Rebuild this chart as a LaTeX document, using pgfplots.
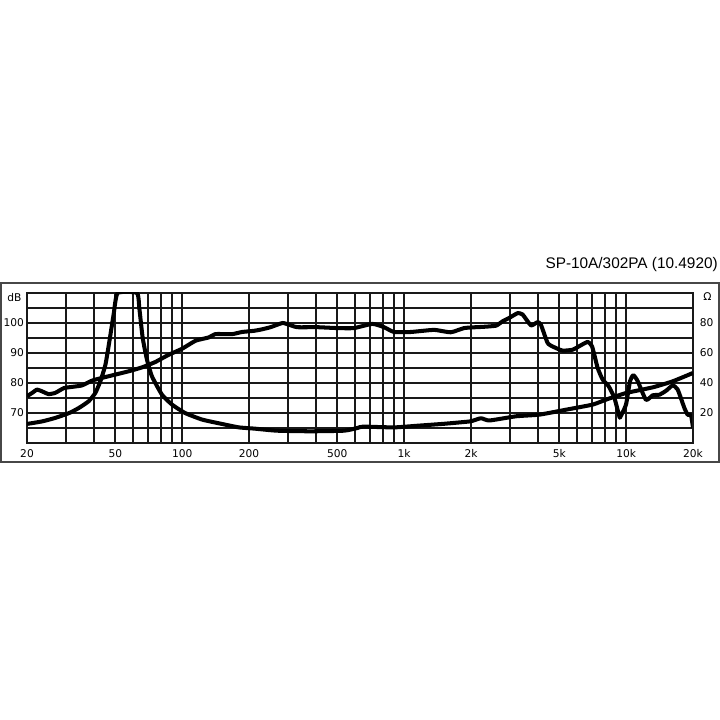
\documentclass[border=0pt]{standalone}
\usepackage{pgfplots}
\pgfplotsset{compat=1.18}
\usepackage{fontspec}
\setmainfont{DejaVu Sans}
\newfontfamily\dejavu{DejaVu Sans}
\newfontfamily\arialf{Liberation Sans}

\pgfplotstableread{
f db
20 75.6
21.1 76.7
22.2 77.8
23.4 77.2
25.0 76.3
26.8 76.7
29.3 78.3
31.9 78.7
35.4 79.2
39.3 80.8
43.5 81.7
50 82.8
57.4 83.9
65.9 85.2
75.7 87.0
86.9 89.4
99.8 91.4
115 94.1
132 95.2
141 96.3
168 96.3
186 97.0
211 97.4
226 97.8
250 98.6
283 100.0
303 99.4
330 98.6
406 98.6
500 98.3
594 98.3
719 99.7
811 98.6
900 97.0
1070 97.0
1362 97.7
1619 96.9
1860 98.3
2105 98.6
2250 98.7
2590 99.1
2780 100.6
2975 101.7
3246 103.3
3418 102.8
3725 99.2
3990 100.3
4130 99.4
4430 93.3
4746 91.9
5174 90.8
5742 91.1
6260 92.6
6710 93.7
7020 92.2
7440 85.0
7840 81.1
8340 78.9
8850 75.0
9310 68.9
9400 68.6
9980 72.8
10400 80.6
10770 82.6
11270 80.6
12270 74.4
13170 75.9
14110 76.1
15120 77.4
16190 79.2
17060 77.8
18280 71.7
18930 69.4
19600 69.2
20000 65
}\spltable

\pgfplotstableread{
f ohm
20 12.7
23.4 14.4
26.8 16.7
31 20
34.2 23.3
37.9 27.8
40.6 33.3
42.8 41.1
45.1 52.2
47 67.8
49.1 85.6
51.2 100
62.6 100
64.1 90
66.4 70
69.4 55.6
73.1 44.4
81.1 32.2
90 25.6
103 20
123 15.6
151 12.7
180 10.4
211 9.6
267 8.2
379 7.8
536 8.2
616 10
652 10.9
900 10.4
1146 11.5
1512 12.8
1800 13.8
2000 14.5
2218 16.5
2420 15
3190 17.8
4064 18.9
5360 22.2
7066 25.6
8110 28.9
9980 33.3
13170 37.1
16190 41.1
20000 46.7
}\imptable

\begin{document}
\begin{tikzpicture}[x=0.72bp,y=0.72bp]
\useasboundingbox (0,0) rectangle (720,720);
% outer frame
\draw[black!72, line width=1.4bp] (1,{720-283}) rectangle (719,{720-462});
% title
\node[anchor=base east, inner sep=0, font=\arialf\fontsize{11.1}{13}\selectfont] at (718,{720-269}) {SP-10A/302PA (10.4920)};

\begin{axis}[
  at={(19.44bp,199.44bp)}, anchor=south west,
  width=479.52bp, height=108bp, scale only axis,
  xmode=log, log basis x=10,
  xmin=20, xmax=20000, ymin=60, ymax=110,
  xtick={20,50,100,200,500,1000,2000,5000,10000,20000},
  xticklabels={20,50,100,200,500,1k,2k,5k,10k,20k},
  minor xtick={30,40,60,70,80,90,300,400,600,700,800,900,3000,4000,6000,7000,8000,9000},
  ytick={70,80,90,100},
  yticklabels={70,80,90,100},
  minor ytick={65,75,85,95,105},
  grid=both,
  major grid style={black!90, line width=1.35bp},
  minor grid style={black!90, line width=1.35bp},
  major tick length=0pt, minor tick length=0pt,
  tick style={draw=none},
  axis line style={black!90, line width=1.35bp},
  tick label style={font=\dejavu\fontsize{7.7}{8}\selectfont},
  xticklabel style={anchor=center, inner sep=0pt, yshift=-7.5bp},
  yticklabel style={anchor=east, inner sep=0pt, xshift=-2bp},
  clip=true,
]
\addplot[black, line width=2.9bp, line join=round, smooth, tension=0.3] table[x=f,y=db] {\spltable};
\end{axis}

\begin{axis}[
  at={(19.44bp,199.44bp)}, anchor=south west,
  width=479.52bp, height=108bp, scale only axis,
  xmode=log, log basis x=10,
  xmin=20, xmax=20000, ymin=0, ymax=100,
  axis x line=none,
  axis y line*=right,
  ytick={20,40,60,80},
  yticklabels={20,40,60,80},
  major tick length=0pt,
  tick style={draw=none},
  axis line style={black!90, line width=1.35bp},
  tick label style={font=\dejavu\fontsize{7.7}{8}\selectfont},
  yticklabel style={anchor=west, inner sep=0pt, xshift=4.8bp},
  clip=true,
]
\addplot[black, line width=2.9bp, line join=round, smooth, tension=0.3] table[x=f,y=ohm] {\imptable};
\end{axis}

\node[anchor=center, inner sep=0, font=\dejavu\fontsize{7.7}{8}\selectfont] at (14.5,{720-298}) {dB};
\node[anchor=center, inner sep=0, font=\dejavu\fontsize{7.7}{8}\selectfont] at (707.5,{720-297}) {Ω};
\end{tikzpicture}
\end{document}
